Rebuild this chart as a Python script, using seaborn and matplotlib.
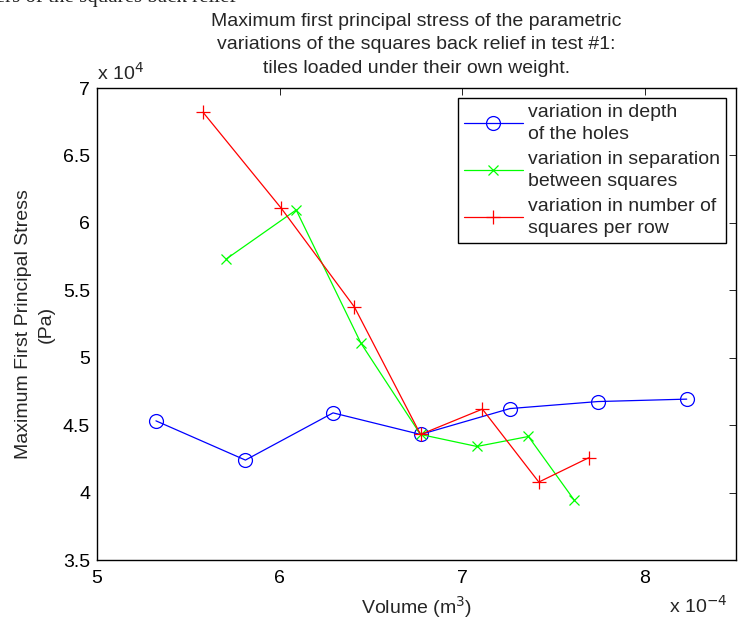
import matplotlib
matplotlib.use("Agg")
import matplotlib.pyplot as plt
import seaborn as sns
import pandas as pd

# Data (volume in 1e-4 m^3, stress in 1e4 Pa)
depth_vol = [5.323, 5.813, 6.293, 6.772, 7.262, 7.743, 8.230]
depth_stress = [4.532, 4.241, 4.591, 4.431, 4.623, 4.675, 4.693]

sep_vol = [5.709, 6.091, 6.446, 6.772, 7.081, 7.363, 7.614]
sep_stress = [5.733, 6.096, 5.107, 4.431, 4.342, 4.416, 3.944]

num_vol = [5.581, 6.009, 6.410, 6.772, 7.111, 7.420, 7.693]
num_stress = [6.820, 6.109, 5.376, 4.431, 4.619, 4.078, 4.258]

labels = ["variation in depth\nof the holes",
          "variation in separation\nbetween squares",
          "variation in number of\nsquares per row"]

x_ticks = [5, 6, 7, 8]
y_ticks = [3.5, 4, 4.5, 5, 5.5, 6, 6.5, 7]
y_tick_labels = ["3.5", "4", "4.5", "5", "5.5", "6", "6.5", "7"]

sns.set_style("white")
plt.rcParams['font.family'] = ['Liberation Sans', 'DejaVu Sans']
fs = 14

fig = plt.figure(figsize=(7.38, 6.19), dpi=100)
ax = fig.add_axes([0.1314, 0.0953, 0.8659, 0.7625])

series = [
    (depth_vol, depth_stress, "blue", "o", 10, labels[0]),
    (sep_vol, sep_stress, "#00ff00", "x", 7, labels[1]),
    (num_vol, num_stress, "red", "+", 10, labels[2]),
]
for xs, ys, col, mk, ms, lab in series:
    df = pd.DataFrame({"vol": xs, "stress": ys})
    sns.lineplot(data=df, x="vol", y="stress", sort=False, estimator=None,
                 color=col, marker=mk, markersize=ms, markerfacecolor="none",
                 markeredgecolor=col, markeredgewidth=0.9, linewidth=0.9,
                 label=lab, ax=ax)

ax.set_xlim(5, 8.5)
ax.set_ylim(3.5, 7)
ax.set_xticks(x_ticks)
ax.set_xticklabels([str(t) for t in x_ticks])
ax.set_yticks(y_ticks)
ax.set_yticklabels(y_tick_labels)
ax.tick_params(direction="in", top=True, right=True, length=5, width=0.6,
               labelsize=fs, colors="black")
ax.tick_params(axis="x", pad=7)
ax.tick_params(axis="y", pad=5)
for sp in ax.spines.values():
    sp.set_color("black")
    sp.set_linewidth(1.0)

ax.set_xlabel("Volume (m$^3$)", fontsize=fs, labelpad=5)
ax.set_ylabel("Maximum First Principal Stress\n(Pa)", fontsize=fs,
              labelpad=6, linespacing=1.4)
ax.set_title("Maximum first principal stress of the parametric\n"
             "variations of the squares back relief in test #1:\n"
             "tiles loaded under their own weight.",
             fontsize=fs, pad=11, linespacing=1.5)

ax.text(0.0, 1.01, "x 10$^4$", transform=ax.transAxes, fontsize=fs,
        ha="left", va="bottom")
fig.text(0.986, 0.003, "x 10$^{-4}$", fontsize=fs, ha="right", va="bottom")

# cropped document text at the very top
fig.text(0.32, 0.989, "Parameters of the squares back relief",
         family=["Liberation Serif", "DejaVu Serif"], fontsize=15,
         ha="right", va="bottom")

leg = ax.legend(loc="upper right", fontsize=fs, frameon=True, fancybox=False,
                edgecolor="black", handlelength=3.0, borderaxespad=0.5,
                labelspacing=0.4, handletextpad=0.3, borderpad=0.3)
leg.get_frame().set_linewidth(1.0)
leg.get_frame().set_alpha(1)
for t in leg.get_texts():
    t.set_linespacing(1.4)

fig.savefig("out.png", dpi=100)
